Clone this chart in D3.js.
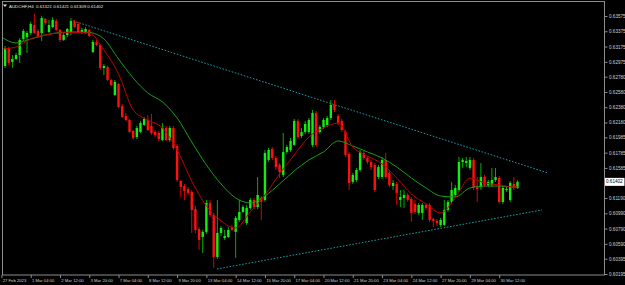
<!DOCTYPE html>
<html><head><meta charset="utf-8">
<script src="https://cdn.jsdelivr.net/npm/d3@7"></script>
<style>html,body{margin:0;padding:0;background:#000;overflow:hidden}</style>
</head><body>
<svg id="c" width="625" height="285"></svg>
<script>
// ---------- data ----------
const symbol = "AUDCHF,H4";
const lastOHLC = ["0.61321", "0.61421", "0.61309", "0.61402"];
const currentPrice = 0.61402;

const opens = [
 0.63156,0.62920,0.63156,0.62973,0.63012,0.63064,0.63274,0.63300,
 0.63353,0.63457,0.63379,0.63353,0.63536,0.63366,0.63431,0.63510,0.63392,0.63261,
 0.63326,0.63353,0.63497,0.63471,0.63366,0.63353,0.63392,0.63104,0.63235,0.63195,
 0.62894,0.62907,0.62737,0.62540,0.62685,0.62396,0.62265,0.62213,0.62069,0.61990,
 0.62056,0.62148,0.62213,0.62134,0.62056,0.62043,0.61951,0.62108,0.61951,0.62108,
 0.61872,0.61414,0.61348,0.61309,0.61270,0.61047,0.60785,0.60680,0.60746,0.61126,
 0.60969,0.60418,0.60733,0.60667,0.60680,0.60811,0.60746,0.60903,0.61008,0.60864,
 0.61060,0.61165,0.61073,0.61191,0.61165,0.61689,0.61833,0.61715,0.61624,0.61493,
 0.61794,0.61820,0.61886,0.62200,0.62003,0.62056,0.62056,0.61886,0.62305,0.62056,
 0.62121,0.62148,0.62239,0.62410,0.62265,0.62200,0.62056,0.61768,0.61401,0.61427,
 0.61558,0.61781,0.61715,0.61663,0.61624,0.61466,0.61466,0.61689,0.61519,0.61348,
 0.61375,0.61165,0.61191,0.61231,0.61178,0.61113,0.60995,0.60995,0.61100,0.61100,
 0.60916,0.60890,0.60838,0.60838,0.61034,0.61139,0.61231,0.61296,0.61663,0.61650,
 0.61584,0.61689,0.61335,0.61335,0.61466,0.61362,0.61362,0.61427,0.61453,0.61139,
 0.61296,0.61165,0.61375,0.61321
];
const highs = [
 0.63182,0.63182,0.63169,0.63064,0.63091,0.63287,0.63405,0.63379,
 0.63497,0.63602,0.63405,0.63575,0.63549,0.63523,0.63562,0.63536,0.63405,0.63353,
 0.63418,0.63549,0.63523,0.63497,0.63418,0.63431,0.63405,0.63261,0.63261,0.63209,
 0.62947,0.62920,0.62750,0.62737,0.62698,0.62423,0.62305,0.62226,0.62082,0.62134,
 0.62200,0.62252,0.62279,0.62292,0.62082,0.62069,0.62174,0.62134,0.62134,0.62134,
 0.61899,0.61427,0.61375,0.61335,0.61296,0.61086,0.60811,0.60772,0.61165,0.61165,
 0.60995,0.61165,0.60824,0.60772,0.60811,0.60838,0.60955,0.61165,0.61100,0.61100,
 0.61191,0.61191,0.61466,0.61217,0.61820,0.61846,0.61859,0.61741,0.61650,0.62043,
 0.61886,0.61977,0.62226,0.62226,0.62108,0.62200,0.62239,0.62344,0.62331,0.62148,
 0.62239,0.62265,0.62475,0.62475,0.62292,0.62226,0.62082,0.61794,0.61519,0.61584,
 0.61820,0.61807,0.61741,0.61689,0.61650,0.61624,0.61728,0.61781,0.61558,0.61427,
 0.61401,0.61296,0.61296,0.61257,0.61204,0.61165,0.61126,0.61126,0.61126,0.61126,
 0.60929,0.60916,0.60929,0.61165,0.61165,0.61401,0.61362,0.61728,0.61715,0.61728,
 0.61728,0.61715,0.61466,0.61650,0.61493,0.61427,0.61584,0.61584,0.61479,0.61348,
 0.61348,0.61414,0.61466,0.61421
];
const lows = [
 0.62999,0.62894,0.62933,0.62894,0.62999,0.62960,0.63248,0.63091,
 0.63326,0.63340,0.63287,0.63248,0.63457,0.63353,0.63418,0.63379,0.63235,0.63248,
 0.63300,0.63326,0.63418,0.63353,0.63340,0.63340,0.63300,0.63091,0.63182,0.62868,
 0.62802,0.62724,0.62658,0.62527,0.62370,0.62239,0.62200,0.62043,0.61951,0.61964,
 0.62043,0.62134,0.62069,0.62017,0.61990,0.61938,0.61938,0.61938,0.61925,0.61820,
 0.61401,0.61204,0.61165,0.61231,0.60733,0.60733,0.60510,0.60471,0.60720,0.60942,
 0.60274,0.60392,0.60693,0.60641,0.60667,0.60759,0.60405,0.60877,0.60995,0.60838,
 0.61034,0.61047,0.61047,0.60903,0.61139,0.61663,0.61689,0.61558,0.61453,0.61466,
 0.61768,0.61794,0.61872,0.61964,0.61977,0.62030,0.62030,0.61859,0.61859,0.62030,
 0.62095,0.62121,0.62213,0.62318,0.62148,0.62056,0.61728,0.61296,0.61375,0.61401,
 0.61532,0.61689,0.61637,0.61558,0.61270,0.61440,0.61440,0.61440,0.61335,0.61296,
 0.61100,0.61073,0.61060,0.61139,0.60877,0.60982,0.60969,0.60903,0.61034,0.60877,
 0.60811,0.60824,0.60811,0.60824,0.61008,0.61113,0.61204,0.61270,0.61584,0.61597,
 0.61558,0.61296,0.61139,0.61296,0.61335,0.61335,0.61335,0.61401,0.61113,0.61113,
 0.61270,0.61139,0.61296,0.61309
];
const closes = [
 0.63025,0.63156,0.62960,0.63012,0.63064,0.63261,0.63379,0.63353,
 0.63471,0.63353,0.63300,0.63549,0.63484,0.63457,0.63523,0.63392,0.63261,0.63326,
 0.63405,0.63510,0.63431,0.63366,0.63392,0.63405,0.63313,0.63235,0.63195,0.62894,
 0.62920,0.62737,0.62671,0.62711,0.62383,0.62252,0.62213,0.62056,0.61977,0.62108,
 0.62174,0.62226,0.62082,0.62043,0.62017,0.61964,0.62108,0.61951,0.62108,0.61846,
 0.61427,0.61335,0.61283,0.61257,0.61034,0.60772,0.60641,0.60746,0.61126,0.60969,
 0.60418,0.60733,0.60798,0.60693,0.60772,0.60772,0.60929,0.61008,0.61073,0.61060,
 0.61165,0.61073,0.61231,0.61139,0.61781,0.61820,0.61715,0.61597,0.61532,0.61794,
 0.61859,0.61938,0.62200,0.61990,0.62056,0.62161,0.62213,0.62305,0.61886,0.62121,
 0.62213,0.62239,0.62410,0.62344,0.62174,0.62082,0.61755,0.61388,0.61493,0.61558,
 0.61794,0.61715,0.61663,0.61597,0.61296,0.61597,0.61689,0.61466,0.61362,0.61388,
 0.61257,0.61204,0.61231,0.61165,0.60995,0.61008,0.61100,0.61100,0.61060,0.60903,
 0.60890,0.60864,0.60903,0.61034,0.61139,0.61296,0.61322,0.61663,0.61689,0.61676,
 0.61689,0.61322,0.61309,0.61466,0.61362,0.61401,0.61427,0.61466,0.61139,0.61322,
 0.61309,0.61388,0.61322,0.61402
];

// moving averages at every 4th bar
const maBars = [0,4,8,12,16,20,24,28,32,36,40,44,48,52,56,60,64,68,72,76,80,84,88,92,96,100,104,108,112,116,120,124,128,132,136,140,141];
const fastMA = [
 0.63143,0.63169,0.63274,0.63326,0.63353,0.63359,0.63353,0.63130,0.62816,0.62344,
 0.62213,0.62108,0.61820,0.61414,0.61086,0.60890,0.60798,0.61008,0.61231,0.61506,
 0.61755,0.61990,0.62108,0.62174,0.61859,0.61741,0.61637,0.61453,0.61244,0.61113,
 0.60995,0.61191,0.61453,0.61388,0.61362,0.61335,0.61335
];
const slowMA = [
 0.63300,0.63222,0.63274,0.63326,0.63359,0.63366,0.63359,0.63274,0.63012,0.62763,
 0.62567,0.62449,0.62239,0.61925,0.61624,0.61375,0.61191,0.61126,0.61217,0.61375,
 0.61545,0.61689,0.61794,0.61938,0.61872,0.61794,0.61715,0.61597,0.61453,0.61322,
 0.61217,0.61204,0.61322,0.61348,0.61348,0.61335,0.61335
];

// trend lines: [bar, price] anchors
const upperTrend = [[19.6, 0.63510], [149.3, 0.61519]];
const lowerTrend = [[58.9, 0.60261], [147.7, 0.61034]];

const timeLabels = ["27 Feb 2023","1 Mar 04:00","2 Mar 12:00","3 Mar 20:00","7 Mar 04:00","8 Mar 12:00",
 "9 Mar 20:00","13 Mar 04:00","14 Mar 12:00","15 Mar 20:00","17 Mar 04:00","20 Mar 12:00",
 "21 Mar 20:00","23 Mar 04:00","24 Mar 12:00","27 Mar 20:00","29 Mar 04:00","30 Mar 12:00"];
const timeLabelBars = [0,8,16,24,32,40,48,56,64,72,80,88,96,104,112,120,128,136];
const priceTicks = ["0.63575","0.63375","0.63175","0.62975","0.62780","0.62580","0.62380","0.62180",
 "0.61985","0.61785","0.61585","0.61190","0.60990","0.60790","0.60590","0.60395","0.60195"];

// ---------- drawing ----------
const W = 625, H = 285;
const L = 2, T = 2, R = 604, B = 275;
const FONT = "'Liberation Sans', Arial, sans-serif";

const svg = d3.select("#c");
svg.append("rect").attr("width", W).attr("height", H).attr("fill", "#000");

const x = d3.scaleLinear().domain([0, 141]).range([1.4, 517.5]);
const y = d3.scaleLinear().domain([0.60195, 0.63575]).range([274, 16]);

svg.append("clipPath").attr("id", "clip")
  .append("rect").attr("x", L).attr("y", T).attr("width", R - L).attr("height", B - T);
const plot = svg.append("g").attr("clip-path", "url(#clip)");

const bars = opens.map((o, k) => ({k, o, h: highs[k], l: lows[k], c: closes[k], up: closes[k] >= o}));

// wicks
plot.append("g").selectAll("line").data(bars).join("line")
  .attr("x1", d => x(d.k)).attr("x2", d => x(d.k))
  .attr("y1", d => y(d.h)).attr("y2", d => y(d.l))
  .attr("stroke", d => d.up ? "#00b000" : "#e00000")
  .attr("stroke-width", 1);

// bodies
const bw = 2.4;
plot.append("g").selectAll("rect").data(bars).join("rect")
  .attr("x", d => x(d.k) - bw / 2)
  .attr("width", bw)
  .attr("y", d => y(Math.max(d.o, d.c)))
  .attr("height", d => Math.max(1, Math.abs(y(d.o) - y(d.c))))
  .attr("fill", d => d.up ? "#10f010" : "#ff1010");

// moving averages
const maLine = d3.line().x(d => x(d[0])).y(d => y(d[1])).curve(d3.curveMonotoneX);
plot.append("path").datum(maBars.map((b, i) => [b, slowMA[i]]))
  .attr("d", maLine).attr("fill", "none").attr("stroke", "#14a014").attr("stroke-width", 1);
plot.append("path").datum(maBars.map((b, i) => [b, fastMA[i]]))
  .attr("d", maLine).attr("fill", "none").attr("stroke", "#c00000").attr("stroke-width", 1);

// trend lines
const tl = d3.line().x(d => x(d[0])).y(d => y(d[1]));
[upperTrend, lowerTrend].forEach(t => {
  plot.append("path").datum(t).attr("d", tl)
    .attr("fill", "none").attr("stroke", "#1d9aa6").attr("stroke-width", 1)
    .attr("stroke-dasharray", "1.6,1.6");
});

// frame
svg.append("rect").attr("x", L + 0.5).attr("y", T - 0.5).attr("width", R - L).attr("height", B - T + 0.5)
  .attr("fill", "none").attr("stroke", "#8c8c8c").attr("stroke-width", 1);

// price axis
const yAxis = d3.axisRight(y)
  .tickValues(priceTicks.map(Number))
  .tickFormat((d, i) => priceTicks[i])
  .tickSize(3).tickPadding(1.5);
const gy = svg.append("g").attr("transform", `translate(${R + 0.5},0)`).call(yAxis);
gy.select(".domain").remove();
gy.selectAll(".tick line").attr("stroke", "#8c8c8c");
gy.selectAll(".tick text").attr("fill", "#d0d0d0").attr("font-size", "4.6px").attr("font-family", FONT);

// current price box
const cy = y(currentPrice);
svg.append("rect").attr("x", 605).attr("y", cy - 4).attr("width", 19.5).attr("height", 8).attr("fill", "#ffffff");
svg.append("text").attr("x", 606).attr("y", cy).attr("dy", "0.35em")
  .attr("fill", "#000").attr("font-size", "4.6px").attr("font-family", FONT).text(lastOHLC[3]);

// time axis
const xAxis = d3.axisBottom(x)
  .tickValues(timeLabelBars)
  .tickFormat((d, i) => timeLabels[i])
  .tickSize(3).tickPadding(1);
const gx = svg.append("g").attr("transform", `translate(0,${B})`).call(xAxis);
gx.select(".domain").remove();
gx.selectAll(".tick line").attr("stroke", "#8c8c8c");
gx.selectAll(".tick text").attr("fill", "#d0d0d0").attr("font-size", "4.2px")
  .attr("font-family", FONT).attr("text-anchor", "start").attr("dx", "0.8");

// title
svg.append("path").attr("d", "M3,4.5 L7,4.5 L5,7 Z").attr("fill", "#e0e0e0");
svg.append("text").attr("x", 9).attr("y", 8.2)
  .attr("fill", "#e0e0e0").attr("font-size", "4.4px").attr("font-family", FONT)
  .attr("xml:space", "preserve")
  .text(symbol + "  " + lastOHLC.join(" "));
</script>
</body></html>
